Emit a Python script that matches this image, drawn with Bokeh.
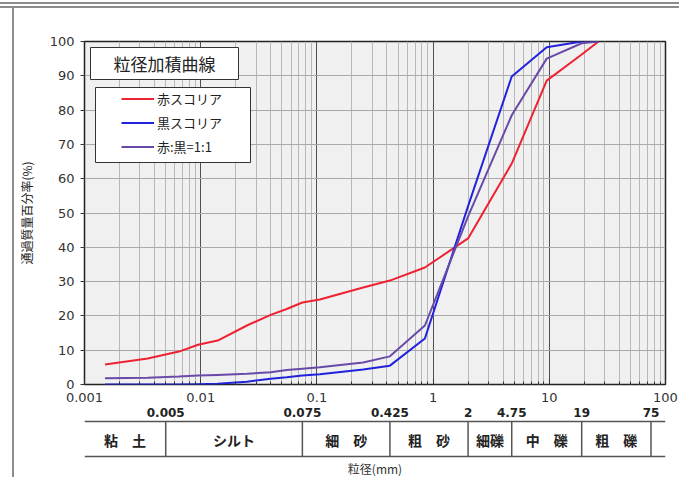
import math
from bokeh.plotting import figure
from bokeh.models import (Range1d, FixedTicker, NumeralTickFormatter, Legend, LegendItem,
                          BoxAnnotation, Label)
from bokeh.layouts import column
from bokeh.core.properties import value
from bokeh.embed import file_html
from bokeh.resources import INLINE

# ---------------- data ----------------
diam = [0.0015, 0.0035, 0.0065, 0.0095, 0.014, 0.025, 0.04, 0.055, 0.075, 0.106,
        0.25, 0.425, 0.85, 2, 4.75, 9.5, 19, 26.5]
red_scoria = [5.8, 7.6, 9.6, 11.6, 12.8, 17.2, 20.3, 22.0, 23.9, 24.8,
              28.3, 30.3, 34.1, 42.6, 64.4, 88.6, 96.2, 100]
black_scoria = [0.0, 0.0, 0.0, 0.1, 0.2, 0.8, 1.7, 2.1, 2.6, 3.0,
                4.4, 5.5, 13.4, 52.0, 89.8, 98.3, 100, 100]
mix_1_1 = [1.8, 2.0, 2.3, 2.6, 2.8, 3.1, 3.6, 4.2, 4.6, 5.0,
           6.4, 8.2, 17.2, 49.0, 78.5, 95.0, 99.5, 100]
series_names = ["赤スコリア", "黒スコリア", "赤:黒=1:1"]
series_colors = ["#ee2233", "#2222dd", "#6a4aa8"]

x_ticks = [0.001, 0.01, 0.1, 1, 10, 100]
y_ticks = [0, 10, 20, 30, 40, 50, 60, 70, 80, 90, 100]

class_bounds = [0.005, 0.075, 0.425, 2, 4.75, 19, 75]
class_bound_labels = ["0.005", "0.075", "0.425", "2", "4.75", "19", "75"]
class_names = ["粘　土", "シルト", "細　砂", "粗　砂", "細礫", "中　礫", "粗　礫"]

chart_title = "粒径加積曲線"
y_label = "通過質量百分率(%)"
x_label = "粒径(mm)"

FONT = "Noto Sans CJK JP"
NUM = "DejaVu Sans"
TXT = "#222222"

# ---------------- main chart ----------------
xmin, xmax = x_ticks[0], x_ticks[-1]
p = figure(x_axis_type="log", x_range=Range1d(xmin, xmax), y_range=Range1d(0, 100),
           frame_width=581, frame_height=343, output_backend="svg", toolbar_location=None,
           min_border_left=69, min_border_top=33, min_border_right=14, min_border_bottom=0)
p.background_fill_color = "#f0f0f0"
p.border_fill_color = "white"
p.outline_line_color = "#222222"
p.outline_line_width = 1.5

minor = [d * m for d in x_ticks[:-1] for m in range(2, 10)]
p.xaxis.ticker = FixedTicker(ticks=x_ticks, minor_ticks=minor)
p.xaxis.formatter = NumeralTickFormatter(format="0.[000]")
p.xaxis.axis_line_color = None
p.xaxis.major_tick_in = 5
p.xaxis.major_tick_out = 0
p.xaxis.minor_tick_in = 3
p.xaxis.minor_tick_out = 0
p.xaxis.major_tick_line_color = "#333333"
p.xaxis.minor_tick_line_color = "#333333"
p.xaxis.major_label_standoff = 8
p.xaxis.major_label_text_font = NUM
p.xaxis.major_label_text_font_size = "13px"
p.xaxis.major_label_text_color = "#333333"

p.yaxis.ticker = FixedTicker(ticks=y_ticks)
p.yaxis.axis_line_color = None
p.yaxis.major_tick_out = 4
p.yaxis.major_tick_in = 0
p.yaxis.minor_tick_line_color = None
p.yaxis.major_tick_line_color = "#333333"
p.yaxis.major_label_standoff = 6
p.yaxis.major_label_text_font = NUM
p.yaxis.major_label_text_font_size = "13px"
p.yaxis.major_label_text_color = "#333333"
p.yaxis.axis_label = y_label
p.yaxis.axis_label_text_font = FONT
p.yaxis.axis_label_text_font_size = "12px"
p.yaxis.axis_label_text_font_style = "normal"
p.yaxis.axis_label_text_color = TXT
p.yaxis.axis_label_standoff = 12

p.xgrid.ticker = FixedTicker(ticks=x_ticks, minor_ticks=minor)
p.xgrid.grid_line_color = "#505050"
p.xgrid.grid_line_width = 1
p.xgrid.minor_grid_line_color = "#b8b8b8"
p.xgrid.minor_grid_line_width = 1
p.ygrid.ticker = FixedTicker(ticks=y_ticks)
p.ygrid.grid_line_color = "#a8a8a8"
p.ygrid.grid_line_width = 1

renderers = []
for vals, col in zip([red_scoria, black_scoria, mix_1_1], series_colors):
    r = p.line(diam, vals, line_color=col, line_width=2)
    renderers.append(r)

# title box
p.add_layout(BoxAnnotation(left=6, right=154, top=337, bottom=305,
                           left_units="screen", right_units="screen",
                           top_units="screen", bottom_units="screen",
                           fill_color="white", fill_alpha=1.0,
                           line_color="#333333", line_width=1, line_alpha=1.0))
p.add_layout(Label(x=80, y=321, x_units="screen", y_units="screen", text=chart_title,
                   text_align="center", text_baseline="middle", text_font=FONT,
                   text_font_size="17px", text_color=TXT))
# legend box
p.add_layout(BoxAnnotation(left=11, right=166, top=297, bottom=222,
                           left_units="screen", right_units="screen",
                           top_units="screen", bottom_units="screen",
                           fill_color="white", fill_alpha=1.0,
                           line_color="#333333", line_width=1, line_alpha=1.0))
legend = Legend(items=[LegendItem(label=n, renderers=[r]) for n, r in zip(series_names, renderers)],
                location=(37, 228), border_line_color=None, background_fill_alpha=0,
                padding=0, margin=0, spacing=5, glyph_width=33, glyph_height=15,
                label_height=15, label_standoff=3, label_text_font=FONT,
                label_text_font_size="13px", label_text_color=TXT)
p.add_layout(legend, "center")

# ---------------- classification table ----------------
t = figure(x_axis_type="log", x_range=p.x_range, y_range=Range1d(73, 0),
           frame_width=581, frame_height=73, output_backend="svg", toolbar_location=None,
           x_axis_location=None, y_axis_location=None,
           min_border_left=69, min_border_right=14, min_border_top=0, min_border_bottom=0)
t.outline_line_color = None
t.background_fill_color = "white"
t.border_fill_color = "white"
t.xgrid.visible = False
t.ygrid.visible = False

line_c = "#555555"
t.segment(x0=[xmin, xmin], x1=[xmax, xmax], y0=[17, 52], y1=[17, 52],
          line_color=line_c, line_width=1.5)
t.segment(x0=class_bounds, x1=class_bounds, y0=[17] * len(class_bounds),
          y1=[52] * len(class_bounds), line_color=line_c, line_width=1.5)
t.text(x=class_bounds, y=[8] * len(class_bounds), text=class_bound_labels,
       text_align="center", text_baseline="middle", text_font=value(NUM),
       text_font_size="12px", text_font_style="bold", text_color=TXT)
edges = [xmin] + class_bounds + [xmax]
centers = [math.sqrt(edges[i] * edges[i + 1]) for i in range(len(class_names))]
t.text(x=centers, y=[35] * len(centers), text=class_names,
       text_align="center", text_baseline="middle", text_font=value(FONT),
       text_font_size="14px", text_font_style="bold", text_color=TXT)
xc = 10 ** ((math.log10(xmin) + math.log10(xmax)) / 2)
t.text(x=[xc], y=[64], text=[x_label], text_align="center", text_baseline="middle",
       text_font=value(FONT), text_font_size="12px", text_color="#333333")

panel = column(p, t, spacing=0, margin=(0, 0, 0, 12),
               styles={"border-left": "2px solid #8c8c8c"})
layout = column(panel, spacing=0, margin=(2, 0, 0, 0),
                styles={"border-top": "6px double #8c8c8c"})

open("out.html", "w").write(file_html(layout, INLINE))
